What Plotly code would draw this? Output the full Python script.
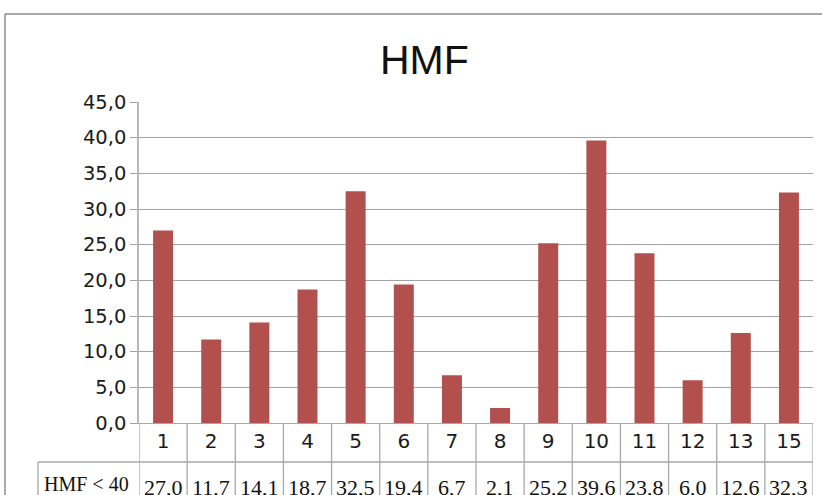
import plotly.graph_objects as go

# chart data
categories = ["1", "2", "3", "4", "5", "6", "7", "8", "9", "10", "11", "12", "13", "15"]
hmf_values = [27.0, 11.7, 14.1, 18.7, 32.5, 19.4, 6.7, 2.1, 25.2, 39.6, 23.8, 6.0, 12.6, 32.3]
row_label = "HMF < 40"
title_text = "HMF"

W, H = 822, 495
L, R, T, B = 139, 9, 102, 72
PW, PH = W - L - R, H - T - B
BAR = "#B2504E"
GRID = "#A3A3A3"
LINE = "#A8A8A8"
SANS = "DejaVu Sans, Arial"
SERIF = "Liberation Serif, Times New Roman"


def px_x(x):
    return (x - L) / PW


def px_y(y):
    return (H - B - y) / PH


fig = go.Figure(go.Bar(
    x=categories, y=hmf_values,
    marker_color=BAR, marker_line_width=0,
    hovertemplate="<b>%{x}</b><br>%{y:.1f}<extra></extra>",
))

shapes = []
# table column lines
for i in range(len(categories) + 1):
    shapes.append(dict(type="line", xref="x", yref="paper",
                       x0=i - 0.5, x1=i - 0.5, y0=0, y1=px_y(500),
                       line=dict(color=LINE, width=1.3)))
# row separator and label cell
shapes.append(dict(type="line", xref="paper", yref="paper",
                   x0=px_x(38), x1=1, y0=px_y(462), y1=px_y(462),
                   line=dict(color=LINE, width=1.3)))
shapes.append(dict(type="line", xref="paper", yref="paper",
                   x0=px_x(38), x1=px_x(38), y0=px_y(462), y1=px_y(500),
                   line=dict(color=LINE, width=1.3)))
# outer frame
shapes.append(dict(type="line", xref="paper", yref="paper",
                   x0=px_x(5), x1=px_x(830), y0=px_y(14), y1=px_y(14),
                   line=dict(color="#8C8C8C", width=1.5)))
shapes.append(dict(type="line", xref="paper", yref="paper",
                   x0=px_x(5), x1=px_x(5), y0=px_y(14), y1=px_y(500),
                   line=dict(color="#8C8C8C", width=1.5)))

annotations = [dict(text=title_text, xref="paper", yref="paper",
                    x=px_x(424), y=px_y(60), xanchor="center", yanchor="middle",
                    showarrow=False,
                    font=dict(family="Liberation Sans, Arial", size=41, color="#111111"))]
annotations.append(dict(text=row_label, xref="paper", yref="paper",
                        x=px_x(42), y=px_y(484), xanchor="left", yanchor="middle",
                        showarrow=False,
                        font=dict(family=SERIF, size=20, color="#111111")))
for i, v in enumerate(hmf_values):
    annotations.append(dict(text=f"{v:.1f}".replace(".", ","), xref="x", yref="paper",
                            x=i, y=px_y(487), xanchor="center", yanchor="middle",
                            showarrow=False,
                            font=dict(family=SERIF, size=22, color="#111111")))

fig.update_layout(
    width=W, height=H,
    margin=dict(l=L, r=R, t=T, b=B),
    paper_bgcolor="white", plot_bgcolor="white",
    separators=", ",
    showlegend=False,
    bargap=0.585,
    shapes=shapes,
    annotations=annotations,
    font=dict(family=SANS, color="#1A1A1A"),
)
fig.update_xaxes(type="category", range=[-0.5, len(categories) - 0.5],
                 showgrid=False, showline=True, linecolor=LINE, linewidth=1.3,
                 ticks="", tickfont=dict(size=20), ticklabelstandoff=0)
fig.update_yaxes(range=[0, 45], dtick=5, tickformat=".1f",
                 showgrid=True, gridcolor=GRID, gridwidth=1.2,
                 showline=True, linecolor="#B8B8B8", linewidth=1.5,
                 ticks="outside", ticklen=7, tickcolor=GRID,
                 tickfont=dict(size=19.5), zeroline=False)

fig.write_html("out.html", config={"displayModeBar": False},
               post_script="document.body.style.margin='0';"
               "document.body.style.overflow='hidden';")
